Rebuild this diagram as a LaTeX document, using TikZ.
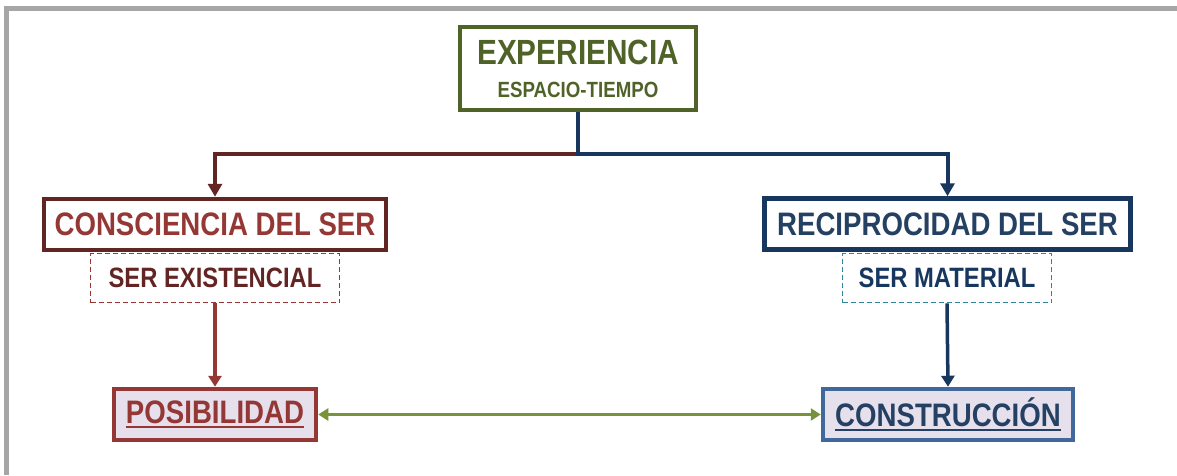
\documentclass[tikz,border=0pt]{standalone}
\usepackage{fontspec}
\usepackage{tikz}
\usetikzlibrary{arrows.meta}
\newfontfamily\narrowsans{Liberation Sans}[FakeStretch=0.85]
\definecolor{expgreen}{HTML}{4F6228}
\definecolor{darkred}{HTML}{632523}
\definecolor{brickred}{HTML}{953735}
\definecolor{navy}{HTML}{17375E}
\definecolor{navytext}{HTML}{244062}
\definecolor{teal}{HTML}{31859C}
\definecolor{midblue}{HTML}{41689A}
\definecolor{lavender}{HTML}{E6E0EC}
\definecolor{linkgreen}{HTML}{77933C}
\definecolor{framegray}{HTML}{A6A6A6}
\newcommand\ulword[1]{\setbox0\hbox{#1}\rlap{\rule[-4pt]{\wd0}{2.2pt}}\box0}

\begin{document}
\begin{tikzpicture}[x=1pt, y=-1pt,
		box/.style={draw, line width=4.5pt, inner sep=0pt, minimum height=51pt,
			font=\narrowsans\bfseries\fontsize{32.5}{36}\selectfont},
		subbox/.style={draw, line width=1.6pt, dash pattern=on 5pt off 3pt, inner sep=0pt,
			minimum height=49pt, font=\narrowsans\bfseries\fontsize{28}{32}\selectfont},
		link/.style={line width=4pt, -{Triangle[length=13pt,width=14pt]}}]
	\useasboundingbox (0,0) rectangle (1177,475);
	\draw[framegray, line width=5pt] (6,475) -- (6,8.5) -- (1177,8.5);

	\node[draw=expgreen, line width=4.5pt, text=expgreen, inner sep=0pt, align=center,
		minimum width=236pt, minimum height=83pt,
		font=\narrowsans\bfseries\fontsize{22}{33}\selectfont] (exp) at (578,68.5)
		{{\fontsize{35}{35}\selectfont EXPERIENCIA}\\{ESPACIO-TIEMPO}};

	\node[box, draw=darkred, text=brickred, minimum width=342pt] (cons) at (215,224.5) {CONSCIENCIA DEL SER};
	\node[subbox, draw=brickred, text=darkred, minimum width=249pt] (exis) at (215,278) {SER EXISTENCIAL};
	\node[box, draw=brickred, fill=lavender, text=brickred, minimum width=202pt] (posi) at (215,414.5) {\ulword{POSIBILIDAD}};

	\node[box, draw=navy, text=navytext, minimum width=366pt] (reci) at (947.5,224) {RECIPROCIDAD DEL SER};
	\node[subbox, draw=teal, text=navy, minimum width=209pt] (mate) at (947,278) {SER MATERIAL};
	\node[box, draw=midblue, fill=lavender, text=navytext, minimum width=250pt] (cons2) at (948,414.5) {\ulword{CONSTRUCCIÓN}};

	\coordinate (split) at (578,154);
	\draw[link, darkred] (split) -| (cons.north);
	\draw[link, navy] (exp.south) -- (split) -| (reci.north);
	\draw[link, brickred, line width=3.5pt, -{Triangle[length=11pt,width=13pt]}] (exis.south) -- (posi.north);
	\draw[link, navy, line width=3.5pt, -{Triangle[length=11pt,width=13pt]}] (mate.south) -- (cons2.north);
	\draw[linkgreen, line width=3.5pt, {Triangle[length=10pt,width=12pt]}-{Triangle[length=10pt,width=12pt]}] (posi.east) -- (cons2.west);
\end{tikzpicture}
\end{document}
